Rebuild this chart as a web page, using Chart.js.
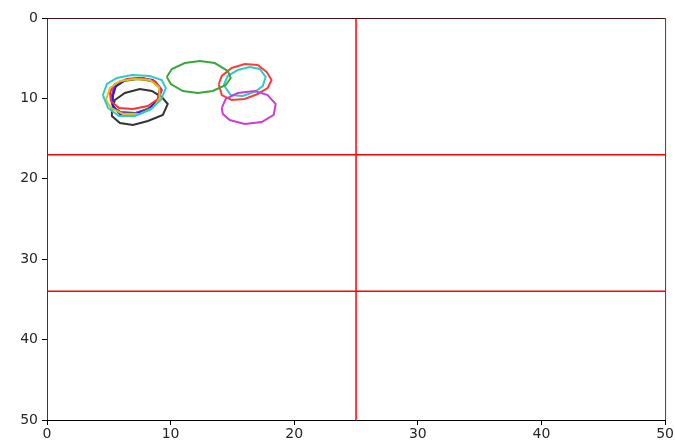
<!DOCTYPE html>
<html>
<head>
<meta charset="utf-8">
<script src="https://cdn.jsdelivr.net/npm/chart.js@4"></script>
<style>
  html, body { margin: 0; padding: 0; background: #fff; }
  #wrap { width: 675px; height: 448px; }
</style>
</head>
<body>
<div id="wrap"><canvas id="chart"></canvas></div>
<script>
// axis ranges / ticks
const xRange = [0, 50];
const yRange = [0, 50];
const tickStep = 10;

// red guide lines
const redX = [0, 25];
const redY = [0, 17, 34];

// contour loops (x values, y values)
const greenX = [9.69, 10.10, 11.15, 12.36, 13.57, 14.62, 14.86, 14.46, 13.41, 12.20, 10.99, 10.02];
const greenY = [7.34, 6.34, 5.60, 5.35, 5.60, 6.59, 7.46, 8.33, 9.08, 9.33, 9.08, 8.21];

const redLoopX = [13.89, 14.14, 14.94, 15.99, 17.04, 17.77, 18.17, 17.85, 17.04, 15.99, 14.94, 14.14];
const redLoopY = [8.21, 7.21, 6.22, 5.72, 5.85, 6.72, 7.71, 8.71, 9.45, 10.07, 10.20, 9.58];

const cyanX = [14.30, 14.62, 15.43, 16.40, 17.21, 17.69, 17.45, 16.80, 15.83, 14.86];
const cyanY = [8.33, 7.21, 6.47, 6.09, 6.34, 7.34, 8.46, 9.20, 9.70, 9.58];

const magentaX = [14.14, 14.46, 15.43, 16.80, 17.85, 18.50, 18.34, 17.37, 15.99, 14.78, 14.22];
const magentaY = [11.19, 10.07, 9.33, 9.08, 9.58, 10.70, 12.06, 12.94, 13.18, 12.69, 11.94];

// cluster near (7, 10)
const cCyanX = [4.52, 4.85, 5.65, 6.87, 8.32, 9.29, 9.61, 9.21, 8.32, 7.11, 5.82, 4.93];
const cCyanY = [9.58, 8.21, 7.46, 7.09, 7.21, 7.71, 8.71, 10.20, 11.44, 12.19, 12.19, 11.19];

const cYellowX = [4.77, 5.09, 5.90, 7.11, 8.32, 9.05, 9.13, 8.56, 7.51, 6.14, 5.17];
const cYellowY = [10.20, 8.71, 7.84, 7.59, 7.71, 8.58, 9.95, 11.19, 11.94, 11.94, 11.19];

const cRedX = [5.09, 5.49, 6.46, 7.67, 8.72, 9.21, 8.97, 8.16, 6.95, 5.82, 5.17];
const cRedY = [9.20, 8.21, 7.59, 7.46, 7.84, 8.83, 10.07, 10.95, 11.32, 11.19, 10.32];

const cBlueX = [5.33, 5.57, 6.38, 7.51, 8.56, 9.13, 8.97, 8.16, 6.95, 5.90, 5.33];
const cBlueY = [9.70, 8.46, 7.71, 7.46, 7.71, 8.71, 10.20, 11.44, 12.06, 11.94, 10.95];

const cGreenX = [5.25, 5.41, 6.22, 7.35, 8.48, 9.13, 9.05, 8.32, 7.19, 5.98, 5.33];
const cGreenY = [10.20, 8.71, 7.84, 7.59, 7.84, 8.71, 10.07, 11.19, 11.82, 11.69, 11.07];

const cPurpleX = [5.25, 5.57, 6.54, 7.75, 8.80, 9.29, 8.97, 8.08, 6.87, 5.74, 5.25];
const cPurpleY = [9.45, 8.21, 7.59, 7.46, 7.96, 8.96, 10.32, 11.44, 11.94, 11.69, 10.70];

const cBlackX = [5.25, 5.49, 6.30, 7.51, 8.48, 9.29, 9.77, 9.37, 8.16, 6.95, 5.90, 5.25];
const cBlackY = [11.44, 10.20, 9.33, 8.83, 9.08, 9.83, 10.70, 12.06, 12.81, 13.31, 13.06, 12.19];

function loop(xs, ys) {
    const pts = xs.map((x, i) => ({ x: x, y: ys[i] }));
    pts.push(pts[0]); // close it
    return pts;
}

function loopSet(xs, ys, color) {
    return {
        data: loop(xs, ys),
        showLine: true,
        borderColor: color,
        borderWidth: 2,
        pointRadius: 0,
        fill: false,
        tension: 0
    };
}

const datasets = [];

// guide lines first (drawn under the loops)
redX.forEach(function (x) {
    datasets.push({
        data: [{ x: x, y: yRange[0] }, { x: x, y: yRange[1] }],
        showLine: true, borderColor: '#ff0000', borderWidth: 1.5, pointRadius: 0
    });
});
redY.forEach(function (y) {
    datasets.push({
        data: [{ x: xRange[0], y: y }, { x: xRange[1], y: y }],
        showLine: true, borderColor: '#ff0000', borderWidth: 1.5, pointRadius: 0
    });
});

datasets.push(loopSet(greenX, greenY, '#3aa63a'));
datasets.push(loopSet(magentaX, magentaY, '#c93fd6'));
datasets.push(loopSet(redLoopX, redLoopY, '#ff3b3b'));
datasets.push(loopSet(cyanX, cyanY, '#2fc9c9'));

datasets.push(loopSet(cCyanX, cCyanY, '#2fc9c9'));
datasets.push(loopSet(cYellowX, cYellowY, '#d6c21c'));
datasets.push(loopSet(cRedX, cRedY, '#ff3030'));
datasets.push(loopSet(cBlueX, cBlueY, '#1c1cf0'));
datasets.push(loopSet(cPurpleX, cPurpleY, '#9a2fd0'));
datasets.push(loopSet(cGreenX, cGreenY, '#1f7a3a'));
datasets.push(loopSet(cBlackX, cBlackY, '#333333'));

const tickFont = { family: 'DejaVu Sans', size: 14 };

new Chart(document.getElementById('chart'), {
    type: 'scatter',
    data: { datasets: datasets },
    options: {
        responsive: true,
        maintainAspectRatio: false,
        animation: false,
        layout: { padding: { top: 18, right: 9, left: 0, bottom: 0 } },
        plugins: { legend: { display: false }, tooltip: { enabled: false } },
        scales: {
            x: {
                type: 'linear',
                position: 'bottom',
                min: xRange[0], max: xRange[1],
                ticks: { stepSize: tickStep, color: '#262626', font: tickFont, padding: 1, maxRotation: 0 },
                grid: { drawOnChartArea: false, drawTicks: true, tickLength: 5, color: '#000' },
                border: { display: true, color: '#000', width: 1 },
                afterFit: function (axis) { axis.height = 28; }
            },
            y: {
                type: 'linear',
                position: 'left',
                reverse: true,
                min: yRange[0], max: yRange[1],
                ticks: { stepSize: tickStep, color: '#262626', font: tickFont, padding: 4 },
                grid: { drawOnChartArea: false, drawTicks: true, tickLength: 5, color: '#000' },
                border: { display: true, color: '#000', width: 1 },
                afterFit: function (axis) { axis.width = 47; }
            }
        }
    },
    plugins: [{
        // black frame on top and right like the reference
        id: 'frame',
        afterDraw: function (chart) {
            const a = chart.chartArea;
            const ctx = chart.ctx;
            ctx.save();
            ctx.strokeStyle = 'rgba(0,0,0,0.75)';
            ctx.lineWidth = 1;
            ctx.beginPath();
            ctx.moveTo(a.left, a.top + 0.5);
            ctx.lineTo(a.right + 0.5, a.top + 0.5);
            ctx.lineTo(a.right + 0.5, a.bottom);
            ctx.stroke();
            ctx.restore();
        }
    }]
});
</script>
</body>
</html>
